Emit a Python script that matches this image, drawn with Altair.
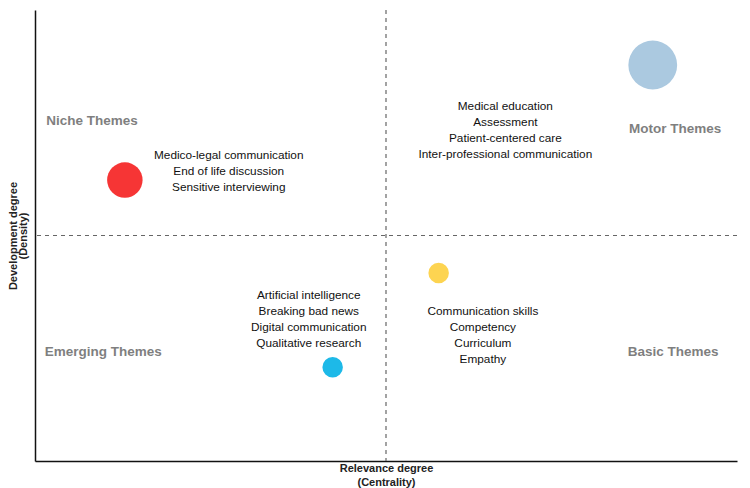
import altair as alt
import pandas as pd

# Bubbles (centrality, density, bubble area, colour)
bx = [12.8, 88.0, 57.5, 42.4]
by = [62.3, 87.8, 41.7, 20.8]
bsize = [1260, 2380, 420, 420]
bcolor = ["#f63535", "#abc9e0", "#fdd451", "#1db9e8"]

# Theme cluster labels (position of first line)
tx = [27.6, 67.0, 39.0, 63.8]
ty = [67.8, 78.7, 36.8, 33.3]
ttext = [
    "Medico-legal communication\nEnd of life discussion\nSensitive interviewing",
    "Medical education\nAssessment\nPatient-centered care\nInter-professional communication",
    "Artificial intelligence\nBreaking bad news\nDigital communication\nQualitative research",
    "Communication skills\nCompetency\nCurriculum\nEmpathy",
]

# Quadrant labels
qx = [1.6, 91.2, 1.4, 90.9]
qy = [75.4, 73.6, 24.2, 24.2]
qtext = ["Niche Themes", "Motor Themes", "Emerging Themes", "Basic Themes"]
qalign = ["left", "center", "left", "center"]

mid = [50]

FONT = "Liberation Sans"

bub = pd.DataFrame({"x": bx, "y": by, "s": bsize, "c": bcolor})
lab = pd.DataFrame({"x": tx, "y": ty, "t": ttext})
quad = pd.DataFrame({"x": qx, "y": qy, "t": qtext, "a": qalign})
mids = pd.DataFrame({"m": mid})

xs = alt.Scale(domain=[0, 100], nice=False, zero=False)
ys = alt.Scale(domain=[0, 100], nice=False, zero=False)

xaxis = alt.Axis(labels=False, ticks=False, grid=False, domainColor="#111", domainWidth=1.5,
                 title=["Relevance degree", "(Centrality)"], titleFont=FONT, titleFontSize=11,
                 titleFontWeight="bold", titleColor="#222", titlePadding=1, titleLineHeight=14)
yaxis = alt.Axis(labels=False, ticks=False, grid=False, domainColor="#111", domainWidth=1.5,
                 title=["Development degree", "(Density)"], titleFont=FONT, titleFontSize=11,
                 titleFontWeight="bold", titleColor="#222", titlePadding=7, titleLineHeight=10)

base_axes = alt.Chart(bub).mark_point(opacity=0).encode(
    x=alt.X("x:Q", scale=xs, axis=xaxis),
    y=alt.Y("y:Q", scale=ys, axis=yaxis),
)

vrule = alt.Chart(mids).mark_rule(color="#666", strokeDash=[4, 4], strokeWidth=1.2).encode(
    x=alt.X("m:Q", scale=xs)
)
hrule = alt.Chart(mids).mark_rule(color="#666", strokeDash=[4, 4], strokeWidth=1.2).encode(
    y=alt.Y("m:Q", scale=ys)
)

bubbles = alt.Chart(bub).mark_circle(opacity=1).encode(
    x=alt.X("x:Q", scale=xs),
    y=alt.Y("y:Q", scale=ys),
    size=alt.Size("s:Q", scale=None, legend=None),
    color=alt.Color("c:N", scale=None, legend=None),
)

labels = alt.Chart(lab).mark_text(
    font=FONT, fontSize=11.8, color="#111", align="center", baseline="middle",
    lineHeight=16, lineBreak="\n"
).encode(
    x=alt.X("x:Q", scale=xs), y=alt.Y("y:Q", scale=ys), text="t:N"
)

quad_left = alt.Chart(quad[quad["a"] == "left"]).mark_text(
    font=FONT, fontSize=13.5, fontWeight="bold", color="#7f7f7f", align="left", baseline="middle"
).encode(x=alt.X("x:Q", scale=xs), y=alt.Y("y:Q", scale=ys), text="t:N")

quad_center = alt.Chart(quad[quad["a"] == "center"]).mark_text(
    font=FONT, fontSize=13.5, fontWeight="bold", color="#7f7f7f", align="center", baseline="middle"
).encode(x=alt.X("x:Q", scale=xs), y=alt.Y("y:Q", scale=ys), text="t:N")

chart = alt.layer(base_axes, vrule, hrule, bubbles, labels, quad_left, quad_center).properties(
    width=702, height=451,
    autosize=alt.AutoSizeParams(type="none"),
    padding={"left": 35, "top": 10, "right": 13, "bottom": 27},
).configure(background="white", view=alt.ViewConfig(stroke=None, strokeWidth=0))

chart.save("out.html", embed_options={"renderer": "svg", "actions": False})
